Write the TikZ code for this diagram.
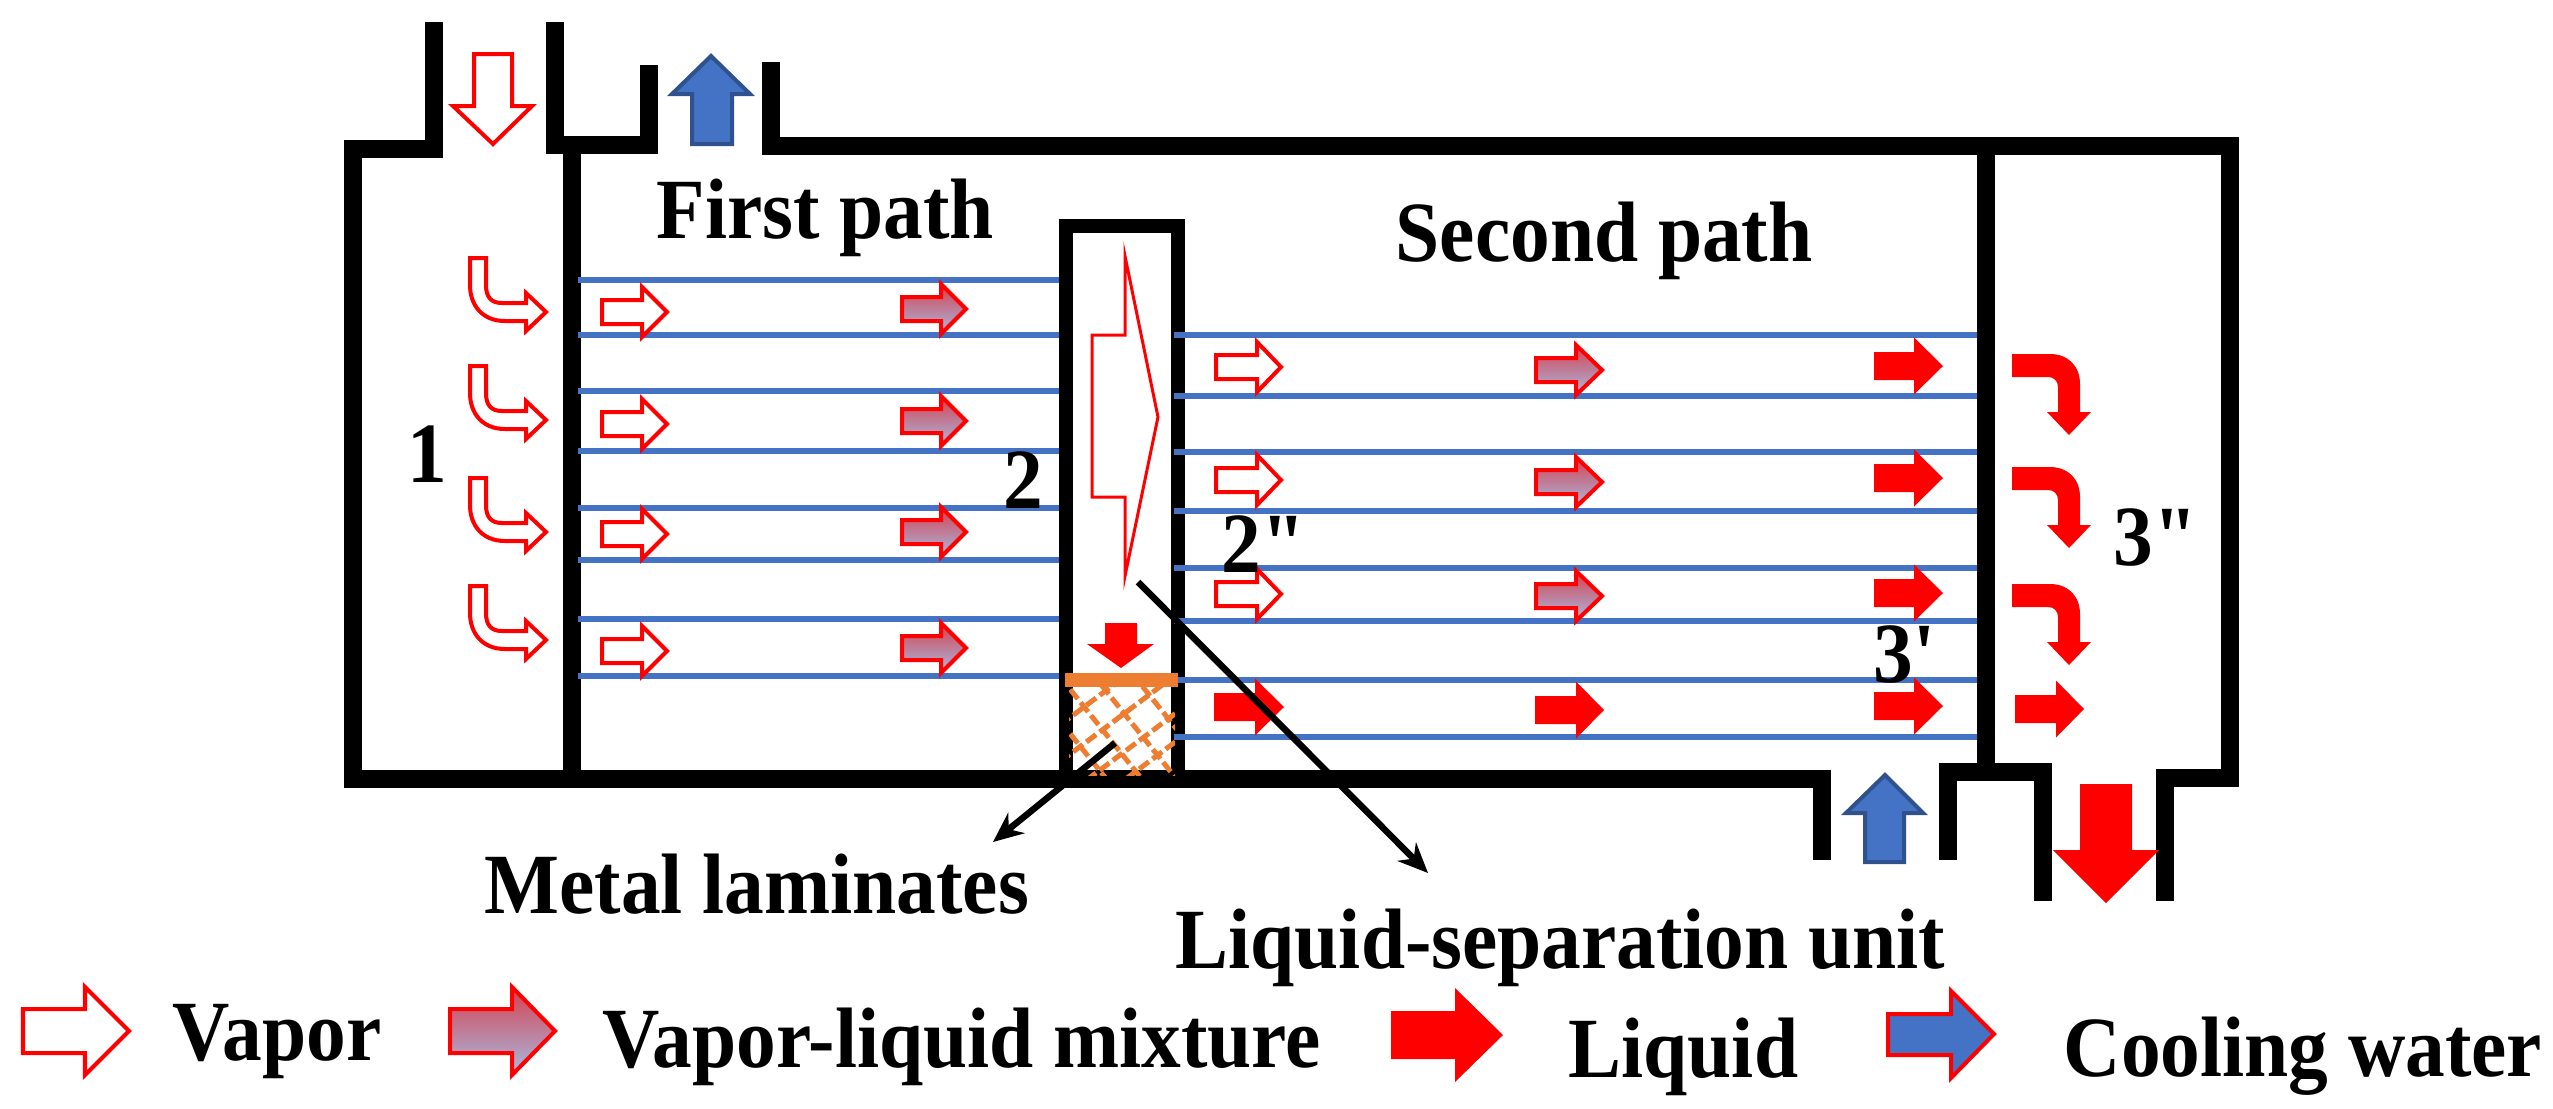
\documentclass[tikz,border=0pt]{standalone}
\usepackage{xcolor}
\usepackage{fontspec}
\setmainfont{Liberation Serif}[Ligatures=TeXOff, FakeStretch=0.925]
\usetikzlibrary{arrows.meta}

\definecolor{tubeblue}{HTML}{4472C4}
\definecolor{edgeblue}{HTML}{2F528F}
\definecolor{meshorange}{HTML}{ED7D31}
\definecolor{mixtop}{HTML}{D8404F}
\definecolor{mixbottom}{HTML}{A4BCE4}

\tikzset{
    wall/.style={line width=0.18cm, miter limit=10},
    thinwall/.style={line width=0.14cm},
    tube/.style={line width=0.055cm, tubeblue},
    vapor/.style={draw=red, fill=white, line width=0.04cm},
    mixture/.style={draw=red, line width=0.04cm, top color=mixtop, bottom color=mixbottom},
    liquid/.style={fill=red},
    water/.style={draw=edgeblue, fill=tubeblue, line width=0.04cm},
    mesh/.style={meshorange, line width=0.05cm, dash pattern=on 0.12cm off 0.045cm},
    leader/.style={line width=0.065cm, -{Stealth[length=0.3cm, width=0.26cm]}},
    lbl/.style={font=\fontsize{24.4}{28}\selectfont\bfseries, inner sep=0pt, anchor=base west}
}

% style, left x, head x, tip x, centre y, half tail, half head
\newcommand{\flowarrow}[7]{
    \path[#1] (#2, #5-#6) -- (#3, #5-#6) -- (#3, #5-#7) -- (#4, #5)
        -- (#3, #5+#7) -- (#3, #5+#6) -- (#2, #5+#6) -- cycle;
}

\begin{document}
\begin{tikzpicture}[x=0.01cm, y=-0.01cm]
    \useasboundingbox (0, 0) rectangle (2553, 1108);

    % walls of the exchanger
    \draw[wall] (434, 22) -- (434, 149) -- (353, 149) -- (353, 779) -- (1822, 779) -- (1822, 860);
    \draw[wall] (555, 22) -- (555, 145) -- (649, 145) -- (649, 65);
    \draw[wall] (572, 145) -- (572, 779);
    \draw[wall] (771, 62) -- (771, 146) -- (2230, 146) -- (2230, 778) -- (2165, 778) -- (2165, 901);
    \draw[wall] (1986, 146) -- (1986, 772);
    \draw[wall] (1948, 860) -- (1948, 772) -- (2043, 772) -- (2043, 901);
    \draw[thinwall] (1066, 779) -- (1066, 226) -- (1178, 226) -- (1178, 779);

    % tubes
    \foreach \y in {280, 335, 391, 451, 508, 560, 619, 676} {
        \draw[tube] (578, \y) -- (1059, \y);
    }
    \foreach \y in {335, 396, 452, 511, 568, 621, 680, 737} {
        \draw[tube] (1174, \y) -- (1977, \y);
    }

    % metal laminates
    \begin{scope}
        \clip (1069, 687) rectangle (1175, 775);
        \foreach \c in {195, 305, 420, 505} {
            \draw[mesh] (1060, 660+\c/3) -- (1180, 660+\c/3-90);
        }
        \foreach \c in {50, 183, -80, -230} {
            \draw[mesh] (1060, 660+\c/3) -- (1180, 660+\c/3+150);
        }
    \end{scope}
    \fill[meshorange] (1065, 673) rectangle (1178, 687);
    \path[liquid] (1105, 623) -- (1137, 623) -- (1137, 644) -- (1154, 644) -- (1121, 668) -- (1087, 644) -- (1105, 644) -- cycle;

    % inlet and outlet arrows
    \path[vapor] (474, 54) -- (512, 54) -- (512, 106) -- (532, 106) -- (493, 144) -- (453, 106) -- (474, 106) -- cycle;
    \path[water] (692, 144) -- (692, 94) -- (672, 94) -- (711, 56) -- (750, 94) -- (732, 94) -- (732, 144) -- cycle;
    \path[water] (1865, 862) -- (1865, 813) -- (1846, 813) -- (1885, 775) -- (1923, 813) -- (1904, 813) -- (1904, 862) -- cycle;
    \path[liquid] (2080, 784) -- (2132, 784) -- (2132, 850) -- (2159, 850) -- (2106, 903) -- (2053, 850) -- (2080, 850) -- cycle;

    % left header
    \foreach \dy in {0, 108, 220, 328} {
        \begin{scope}[shift={(0, \dy)}]
            \path[vapor] (470, 258) -- (486, 258) -- (486, 285) .. controls (486, 297) and (491, 303) .. (502, 303)
                -- (526, 303) -- (526, 293) -- (546, 312) -- (526, 331) -- (526, 321) -- (505, 321)
                .. controls (482, 321) and (470, 305) .. (470, 285) -- cycle;
        \end{scope}
    }

    % first path
    \foreach \y in {312, 424, 534, 651} {
        \flowarrow{vapor}{602}{642}{667}{\y}{12}{25}
    }
    \foreach \y in {309, 421, 532, 648} {
        \flowarrow{mixture}{902}{941}{966}{\y}{12}{25}
    }

    % liquid-separation unit
    \path[draw=red, fill=white, line width=0.03cm] (1092, 335) -- (1125, 335) -- (1125, 256) -- (1158, 417)
        -- (1125, 576) -- (1125, 497) -- (1092, 497) -- cycle;

    % second path
    \foreach \y in {367, 480, 594} {
        \flowarrow{vapor}{1216}{1257}{1281}{\y}{12}{25}
    }
    \flowarrow{liquid}{1214}{1255}{1284}{707}{14}{28.5}
    \foreach \y in {370, 482, 596} {
        \flowarrow{mixture}{1536}{1576}{1602}{\y}{12}{25}
    }
    \flowarrow{liquid}{1535}{1576}{1604}{710}{14}{28.5}
    \foreach \y in {366, 478, 593, 706} {
        \flowarrow{liquid}{1874}{1914}{1943}{\y}{14}{28.5}
    }

    % right header
    \foreach \dy in {0, 113, 230} {
        \begin{scope}[shift={(0, \dy)}]
            \path[liquid] (2012, 354) -- (2050, 354) .. controls (2068, 354) and (2080, 366) .. (2080, 384)
                -- (2080, 412) -- (2091, 412) -- (2069, 435) -- (2047, 412) -- (2058, 412) -- (2058, 387)
                .. controls (2058, 381) and (2054, 377) .. (2048, 377) -- (2012, 377) -- cycle;
        \end{scope}
    }
    \flowarrow{liquid}{2015}{2056}{2084}{709}{14}{28.5}

    % labels
    \node[lbl] (firstpath) at (656, 238) {First path};
    \node[lbl] (secondpath) at (1395, 261) {Second path};
    \node[lbl] (one) at (407, 482) {1};
    \node[lbl] (two) at (1003, 508) {2};
    \node[lbl] (twodd) at (1221, 572) {2"};
    \node[lbl] (threed) at (1873, 682) {3'};
    \node[lbl] (threedd) at (2113, 565) {3"};
    \node[lbl] (metal) at (484, 913) {Metal laminates};
    \node[lbl] (unit) at (1175, 968) {Liquid-separation unit};

    % leaders
    \coordinate (metalstart) at (1115, 743);
    \coordinate (metalend) at (993, 842);
    \coordinate (unitstart) at (1138, 582);
    \coordinate (unitend) at (1428, 873);
    \draw[leader] (metalstart) -- (metalend);
    \draw[leader] (unitstart) -- (unitend);

    % legend
    \flowarrow{vapor}{23}{85}{129}{1031}{22}{44}
    \node[lbl] (lgvapor) at (172, 1060) {Vapor};
    \flowarrow{mixture}{450}{512}{555}{1031}{22}{44}
    \node[lbl] (lgmixture) at (602, 1067) {Vapor-liquid mixture};
    \flowarrow{liquid}{1391}{1455}{1503}{1035}{24}{47}
    \node[lbl] (lgliquid) at (1568, 1077) {Liquid};
    \path[draw=red, fill=tubeblue, line width=0.04cm] (1888, 1014) -- (1951, 1014) -- (1951, 991) -- (1994, 1034)
        -- (1951, 1078) -- (1951, 1055) -- (1888, 1055) -- cycle;
    \node[lbl] (lgwater) at (2063, 1076) {Cooling water};
\end{tikzpicture}
\end{document}
